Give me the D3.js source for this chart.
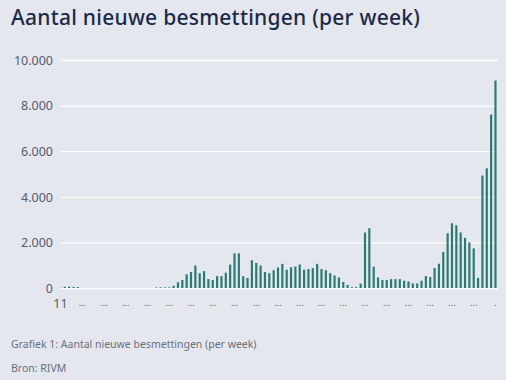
<!DOCTYPE html>
<html>
<head>
<meta charset="utf-8">
<script src="https://cdn.jsdelivr.net/npm/d3@7"></script>
<style>
  html, body { margin: 0; padding: 0; background: #e4e7ee; }
  svg { display: block; }
</style>
</head>
<body>
<svg id="chart" width="506" height="380"></svg>
<script>
// Week categories: 2020 w11..w53, 2021 w1..w52, 2022 w1..w6
const weeks2020 = d3.range(11, 54).map(w => "2020-" + w);
const weeks2021 = d3.range(1, 53).map(w => "2021-" + w);
const weeks2022 = d3.range(1, 7).map(w => "2022-" + w);
const categories = [...weeks2020, ...weeks2021, ...weeks2022];

const values = [
  10, 50, 60, 50, 40, 0, 0, 0, 0, 0,
  0, 0, 0, 0, 0, 0, 0, 0, 0, 0,
  0, 0, 25, 30, 30, 30, 100, 250, 350, 600,
  700, 985, 650, 740, 390, 350, 520, 520, 670, 1030,
  1520, 1520, 515, 440, 1217, 1100, 985, 700, 650, 780,
  900, 1060, 800, 910, 940, 1030, 800, 830, 870, 1060,
  830, 780, 650, 550, 460, 260, 130, 40, 40, 190,
  2435, 2620, 930, 460, 350, 350, 390, 390, 390, 320,
  290, 200, 200, 320, 525, 480, 875, 1065, 1575, 2405,
  2840, 2755, 2435, 2200, 2000, 1735, 440, 4930, 5250, 7610,
  9100
];

const yTicks = [0, 2000, 4000, 6000, 8000, 10000];
const xTickLabels = ["11", "...", "...", "...", "...", "...", "...", "...", "...", "...", "...",
  "...", "...", "...", "...", "...", "...", "...", "...", "...", "."];
const title = "Aantal nieuwe besmettingen (per week)";
const caption = "Grafiek 1: Aantal nieuwe besmettingen (per week)";
const source = "Bron: RIVM";

const svg = d3.select("#chart");
const margin = { left: 59, right: 9 };
const W = 506;

const x = d3.scaleBand()
  .domain(categories)
  .range([margin.left, W - margin.right])
  .paddingInner(0.5)
  .paddingOuter(0.1);

const y = d3.scaleLinear()
  .domain([0, 10000])
  .range([288, 60]);

// title
svg.append("text")
  .attr("x", 11).attr("y", 25)
  .attr("font-family", "Noto Sans, sans-serif")
  .attr("font-size", 21)
  .attr("font-weight", 500)
  .attr("letter-spacing", 0.25)
  .attr("fill", "#1c2a4a")
  .text(title);

// gridlines
svg.append("g")
  .selectAll("line")
  .data(yTicks)
  .join("line")
  .attr("x1", 61).attr("x2", W - 8)
  .attr("y1", d => y(d) + 0.5).attr("y2", d => y(d) + 0.5)
  .attr("stroke", "#ffffff")
  .attr("stroke-width", 1.3);

// y tick labels
const yAxis = d3.axisLeft(y).tickValues(yTicks).tickSize(0).tickPadding(0)
  .tickFormat(d => d3.format(",")(d).replace(/,/g, "."));
const yg = svg.append("g").attr("transform", "translate(53,0)").call(yAxis);
yg.select(".domain").remove();
yg.selectAll("text")
  .attr("font-family", "Noto Sans, sans-serif")
  .attr("font-size", 12.5)
  .attr("fill", "#555b70")
  .attr("dy", "0.35em");

// bars
svg.append("g")
  .selectAll("rect")
  .data(values)
  .join("rect")
  .attr("x", (d, i) => x(categories[i]))
  .attr("width", x.bandwidth())
  .attr("y", d => y(d))
  .attr("height", d => y(0) - y(d))
  .attr("fill", "#2b7a74");

// x tick labels every 5 weeks
const tickCats = categories.filter((c, i) => i % 5 === 0);
const xAxis = d3.axisBottom(x).tickValues(tickCats).tickSize(0).tickPadding(0)
  .tickFormat((d, i) => xTickLabels[i]);
const xg = svg.append("g").attr("transform", "translate(0,297)").call(xAxis);
xg.select(".domain").remove();
xg.selectAll("text")
  .attr("font-family", "Noto Sans, sans-serif")
  .attr("fill", "#555b70")
  .attr("dy", "0.71em")
  .attr("font-size", (d, i) => i === 0 ? 12.5 : 9);
xg.selectAll(".tick").filter((d, i) => i === 0).select("text").attr("dy", "0.88em");
xg.selectAll(".tick").filter((d, i) => i > 0).select("text").attr("dy", "1.05em");

// caption and source
svg.append("text")
  .attr("x", 11).attr("y", 348)
  .attr("font-family", "Noto Sans, sans-serif")
  .attr("font-size", 10.5)
  .attr("fill", "#6a6f7c")
  .text(caption);
svg.append("text")
  .attr("x", 11).attr("y", 372)
  .attr("font-family", "Noto Sans, sans-serif")
  .attr("font-size", 10.5)
  .attr("fill", "#6a6f7c")
  .text(source);
</script>
</body>
</html>
